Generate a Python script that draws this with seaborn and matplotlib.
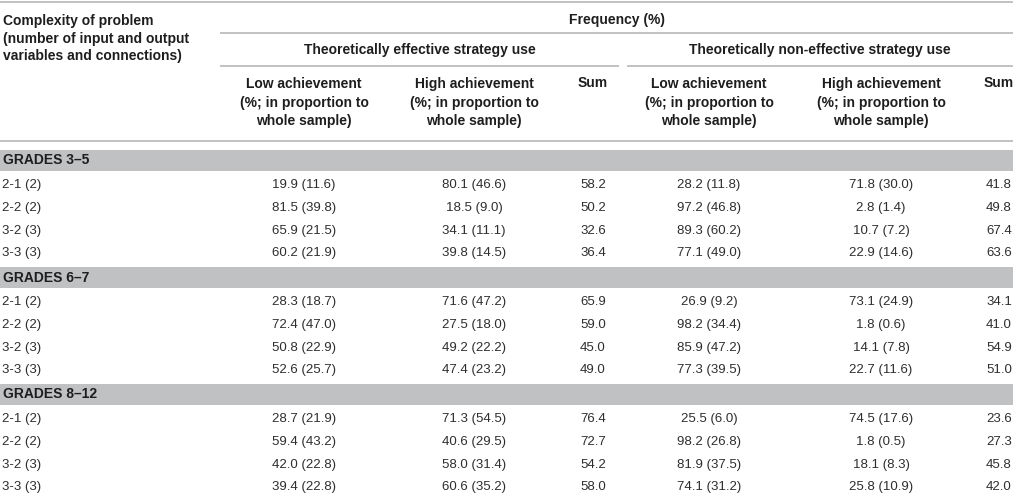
import matplotlib
matplotlib.use("Agg")
import matplotlib.pyplot as plt
import seaborn as sns

# table content
grades = ["GRADES 3–5", "GRADES 6–7", "GRADES 8–12"]
complexity = ["2-1 (2)", "2-2 (2)", "3-2 (3)", "3-3 (3)"]

eff_low = [[19.9, 81.5, 65.9, 60.2], [28.3, 72.4, 50.8, 52.6], [28.7, 59.4, 42.0, 39.4]]
eff_low_whole = [[11.6, 39.8, 21.5, 21.9], [18.7, 47.0, 22.9, 25.7], [21.9, 43.2, 22.8, 22.8]]
eff_high = [[80.1, 18.5, 34.1, 39.8], [71.6, 27.5, 49.2, 47.4], [71.3, 40.6, 58.0, 60.6]]
eff_high_whole = [[46.6, 9.0, 11.1, 14.5], [47.2, 18.0, 22.2, 23.2], [54.5, 29.5, 31.4, 35.2]]
eff_sum = [[58.2, 50.2, 32.6, 36.4], [65.9, 59.0, 45.0, 49.0], [76.4, 72.7, 54.2, 58.0]]

non_low = [[28.2, 97.2, 89.3, 77.1], [26.9, 98.2, 85.9, 77.3], [25.5, 98.2, 81.9, 74.1]]
non_low_whole = [[11.8, 46.8, 60.2, 49.0], [9.2, 34.4, 47.2, 39.5], [6.0, 26.8, 37.5, 31.2]]
non_high = [[71.8, 2.8, 10.7, 22.9], [73.1, 1.8, 14.1, 22.7], [74.5, 1.8, 18.1, 25.8]]
non_high_whole = [[30.0, 1.4, 7.2, 14.6], [24.9, 0.6, 7.8, 11.6], [17.6, 0.5, 8.3, 10.9]]
non_sum = [[41.8, 49.8, 67.4, 63.6], [34.1, 41.0, 54.9, 51.0], [23.6, 27.3, 45.8, 42.0]]

col_header = "Low achievement\n(%; in proportion to\nwhole sample)"
high_header = "High achievement\n(%; in proportion to\nwhole sample)"

sns.set_theme(style="white")
plt.rcParams["font.family"] = ["Liberation Sans", "DejaVu Sans"]

fig = plt.figure(figsize=(10.16, 4.99), dpi=100)
ax = fig.add_axes([0, 0, 1, 1])
ax.set_xlim(0, 1016)
ax.set_ylim(499, 0)
ax.axis("off")

line_c = "#bdbdbd"
band_c = "#c0c1c3"
head_c = "#1e1e1e"
body_c = "#2e2e2e"
hfs = 10
bfs = 9.5

# header rules
ax.hlines(2, 0, 1013, color=line_c, lw=1.3)
ax.hlines(33, 220, 1013, color=line_c, lw=1.3)
ax.hlines(66, 220, 619, color=line_c, lw=1.3)
ax.hlines(66, 627, 1013, color=line_c, lw=1.3)
ax.hlines(141, 0, 1013, color=line_c, lw=1.3)

ax.text(3, 38.5, "Complexity of problem\n(number of input and output\nvariables and connections)",
        ha="left", va="center", fontsize=hfs, fontweight="bold", color=head_c, linespacing=1.35)
ax.text(617, 19.5, "Frequency (%)", ha="center", va="center", fontsize=hfs,
        fontweight="bold", color=head_c)
ax.text(420, 50, "Theoretically effective strategy use", ha="center", va="center",
        fontsize=hfs, fontweight="bold", color=head_c)
ax.text(820, 50, "Theoretically non-effective strategy use", ha="center", va="center",
        fontsize=hfs, fontweight="bold", color=head_c)

col_x = [304, 474, 593, 709, 881, 999]
headers = [col_header, high_header, "Sum", col_header, high_header, "Sum"]
for x, h in zip(col_x, headers):
    ax.text(x, 83 if h == "Sum" else 102.5, h, ha="center", va="center", fontsize=hfs,
            fontweight="bold", color=head_c, linespacing=1.42)

# body
for g, grade in enumerate(grades):
    yb = 160.5 + g * 117
    ax.barh(yb, 1013, height=21, left=0, color=band_c, edgecolor="none")
    ax.text(3, yb, grade, ha="left", va="center", fontsize=hfs, fontweight="bold", color=head_c)
    for r, label in enumerate(complexity):
        y = yb + 24.5 + r * 22.8
        cells = [
            f"{eff_low[g][r]:.1f} ({eff_low_whole[g][r]:.1f})",
            f"{eff_high[g][r]:.1f} ({eff_high_whole[g][r]:.1f})",
            f"{eff_sum[g][r]:.1f}",
            f"{non_low[g][r]:.1f} ({non_low_whole[g][r]:.1f})",
            f"{non_high[g][r]:.1f} ({non_high_whole[g][r]:.1f})",
            f"{non_sum[g][r]:.1f}",
        ]
        ax.text(2, y, label, ha="left", va="center", fontsize=bfs, color=body_c)
        for x, c in zip(col_x, cells):
            ax.text(x, y, c, ha="center", va="center", fontsize=bfs, color=body_c)

fig.savefig("out.png", dpi=100)
